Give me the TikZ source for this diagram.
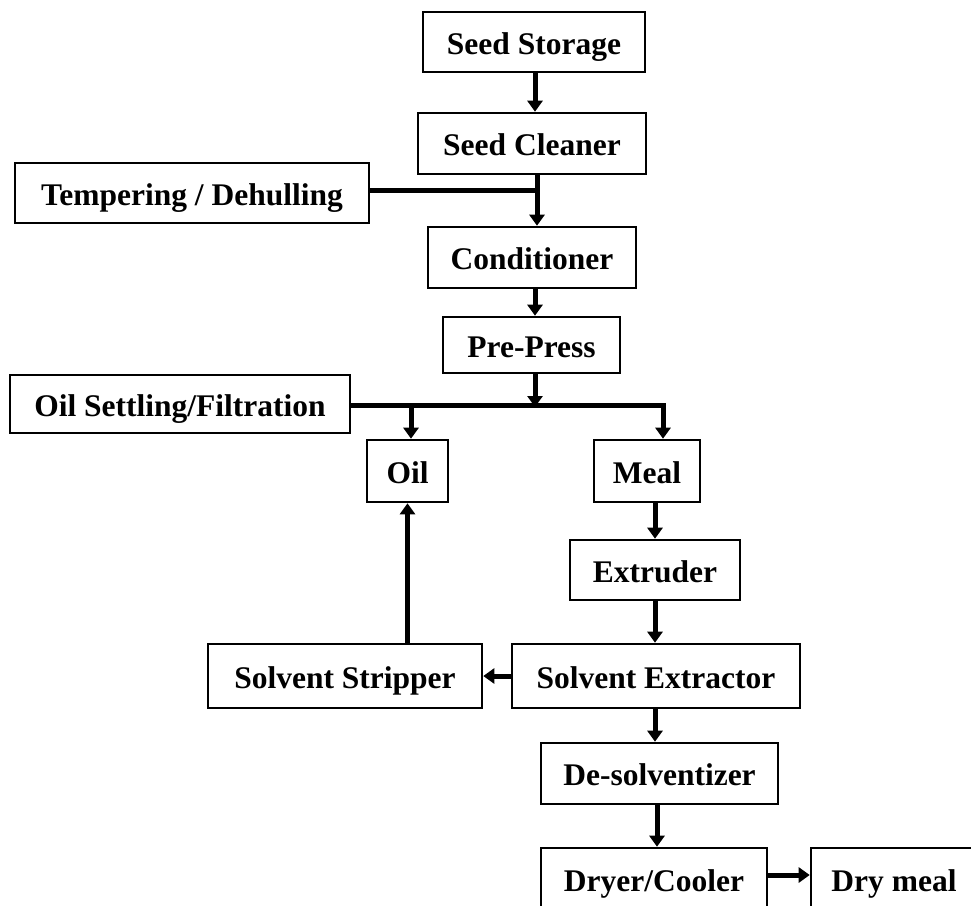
\documentclass[tikz,border=0pt]{standalone}
\usepackage{fontspec}
\setmainfont{Liberation Serif}
\usetikzlibrary{arrows.meta}
\begin{document}
\begin{tikzpicture}[x=1pt,y=-1pt,
  box/.style={draw,line width=2.6pt,inner sep=0pt,minimum height=61pt,
    text height=24pt,text depth=0pt,
    font=\fontsize{31.5}{36}\selectfont\bfseries},
  arr/.style={line width=5pt,-{Triangle[length=11pt,width=15pt]}},
  ln/.style={line width=5pt}]
\useasboundingbox (0,0) rectangle (971,905);
\node[box,minimum width=222pt,minimum height=60pt] (store) at (534,42) {Seed Storage};
\node[box,minimum width=228pt] (clean) at (532,143.5) {Seed Cleaner};
\node[box,minimum width=354pt,minimum height=60pt] (temper) at (192,193) {Tempering / Dehulling};
\node[box,minimum width=208pt] (cond) at (532,257.5) {Conditioner};
\node[box,minimum width=177pt,minimum height=56pt] (press) at (531.5,345) {Pre-Press};
\node[box,minimum width=340pt,minimum height=58pt] (settle) at (180,404) {Oil Settling/Filtration};
\node[box,minimum width=81pt,minimum height=62pt] (oil) at (407.5,471) {Oil};
\node[box,minimum width=106pt,minimum height=62pt] (meal) at (647,471) {Meal};
\node[box,minimum width=170pt,minimum height=60pt] (extr) at (655,570) {Extruder};
\node[box,minimum width=288pt,minimum height=64pt] (solvx) at (656,676) {Solvent Extractor};
\node[box,minimum width=274pt,minimum height=64pt] (strip) at (345,676) {Solvent Stripper};
\node[box,minimum width=237pt] (desolv) at (659.5,773.5) {De-solventizer};
\node[box,minimum width=226pt,minimum height=62pt] (dryer) at (654,879) {Dryer/Cooler};
\node[box,minimum width=166pt,minimum height=62pt] (drymeal) at (894,879) {Dry meal};
\coordinate (j1) at (537,190);
\coordinate (j2) at (535,405);
\coordinate (oilin) at (411,405);
\coordinate (mealin) at (663,405);
\draw[arr] (store.south -| 535,0) -- (clean.north -| 535,0);
\draw[ln] (temper.east |- j1) -- (j1);
\draw[arr] (clean.south -| j1) -- (cond.north -| j1);
\draw[arr] (cond.south -| j2) -- (press.north -| j2);
\draw[arr] (press.south -| j2) -- ([yshift=-2pt]j2);
\draw[ln] (settle.east |- j2) -- ([xshift=2.5pt]mealin);
\draw[arr] ([yshift=2pt]oilin) -- (oil.north -| oilin);
\draw[arr] ([yshift=2pt]mealin) -- (meal.north -| mealin);
\draw[arr] (meal.south -| 655,0) -- (extr.north -| 655,0);
\draw[arr] (extr.south -| 655,0) -- (solvx.north -| 655,0);
\draw[arr] (solvx.west) -- (strip.east);
\draw[arr] (strip.north -| oil.south) -- (oil.south);
\draw[arr] (solvx.south -| 655,0) -- (desolv.north -| 655,0);
\draw[arr] (desolv.south -| 657,0) -- (dryer.north -| 657,0);
\draw[arr] (dryer.east |- 0,875) -- (drymeal.west |- 0,875);
\end{tikzpicture}
\end{document}
